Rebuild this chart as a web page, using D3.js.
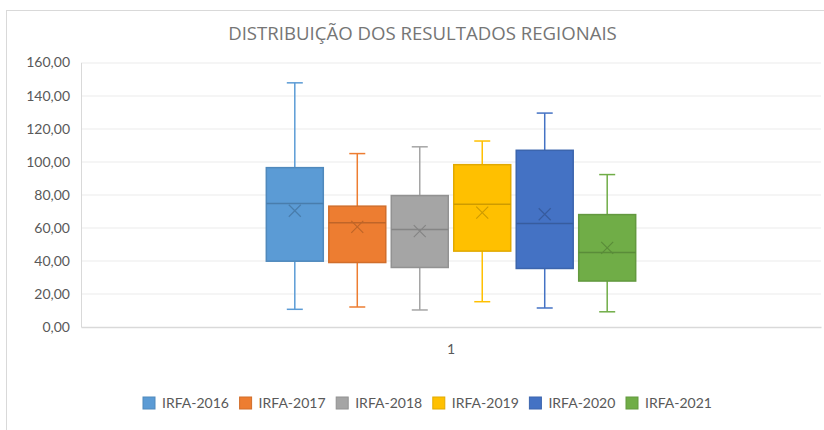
<!DOCTYPE html>
<html>
<head>
<meta charset="utf-8">
<script src="https://cdn.jsdelivr.net/npm/d3@7"></script>
<style>
  body { margin: 0; background: #fff; }
  svg { display: block; }
</style>
</head>
<body>
<svg width="824" height="430"></svg>
<script>
// values
var series = ["IRFA-2016", "IRFA-2017", "IRFA-2018", "IRFA-2019", "IRFA-2020", "IRFA-2021"];
var colors = ["#5B9BD5", "#ED7D31", "#A5A5A5", "#FFC000", "#4472C4", "#70AD47"];
var mins    = [10.7, 12.1, 10.3, 15.3, 11.5, 9.2];
var q1s     = [39.8, 39.0, 36.0, 45.9, 35.4, 27.8];
var medians = [74.7, 63.0, 59.0, 74.3, 62.6, 45.1];
var means   = [70.3, 60.6, 58.0, 69.2, 68.2, 47.9];
var q3s     = [96.4, 73.1, 79.5, 98.2, 106.9, 68.0];
var maxs    = [147.7, 104.9, 109.0, 112.5, 129.4, 92.2];
var categories = ["1"];
var yTicks = [0, 20, 40, 60, 80, 100, 120, 140, 160];

var svg = d3.select("svg"),
    margin = {top: 62.5, left: 81, right: 3, bottom: 103},
    width = 824 - margin.left - margin.right,
    height = 430 - margin.top - margin.bottom;

var locale = d3.formatLocale({decimal: ",", thousands: ".", grouping: [3], currency: ["", ""]}),
    fmt = locale.format(".2f");

// chart frame
svg.append("rect")
    .attr("x", 6.5).attr("y", 10.5)
    .attr("width", 840).attr("height", 430)
    .attr("fill", "none")
    .attr("stroke", "#d9d9d9");

svg.append("text")
    .attr("x", 422.5).attr("y", 39.5)
    .attr("text-anchor", "middle")
    .attr("font-family", "Open Sans")
    .attr("font-size", "18.6px")
    .attr("fill", "#757575")
    .text("DISTRIBUIÇÃO DOS RESULTADOS REGIONAIS");

var g = svg.append("g").attr("transform", "translate(" + margin.left + "," + margin.top + ")");

var y = d3.scaleLinear().domain([0, 160]).range([height, 0]);
var x0 = d3.scaleBand().domain(categories).range([0, width]).paddingOuter(0.487);
var x1 = d3.scaleBand().domain(series).range([0, x0.bandwidth()]).paddingInner(0.088).paddingOuter(0.044);

// gridlines
g.selectAll(".grid")
    .data(yTicks.slice(1))
  .enter().append("line")
    .attr("x1", 0).attr("x2", width)
    .attr("y1", function(d) { return Math.round(y(d)) + 0.5; })
    .attr("y2", function(d) { return Math.round(y(d)) + 0.5; })
    .attr("stroke", "#ebebeb");

var yAxis = g.append("g")
    .call(d3.axisLeft(y).tickValues(yTicks).tickFormat(fmt).tickSize(0).tickPadding(11));
yAxis.select(".domain").attr("stroke", "#d9d9d9");
yAxis.selectAll("text")
    .attr("font-family", "Lato")
    .attr("font-size", "14px")
    .attr("fill", "#595959");

var xAxis = g.append("g")
    .attr("transform", "translate(0," + height + ")")
    .call(d3.axisBottom(x0).tickSize(0).tickPadding(17));
xAxis.select(".domain").attr("stroke", "#d9d9d9").attr("stroke-width", 1.5);
xAxis.selectAll("text")
    .attr("font-family", "Lato")
    .attr("font-size", "14px")
    .attr("fill", "#595959");

var boxes = series.map(function(s, i) {
  return {name: s, color: colors[i], min: mins[i], q1: q1s[i], median: medians[i],
          mean: means[i], q3: q3s[i], max: maxs[i]};
});

var box = g.selectAll(".box")
    .data(boxes)
  .enter().append("g")
    .attr("transform", function(d) { return "translate(" + (x0("1") + x1(d.name)) + ",0)"; });

var bw = x1.bandwidth(), cap = 16;

// whiskers
box.append("line")
    .attr("x1", bw / 2).attr("x2", bw / 2)
    .attr("y1", function(d) { return y(d.max); })
    .attr("y2", function(d) { return y(d.q3); })
    .attr("stroke", function(d) { return d.color; }).attr("stroke-width", 1.5);
box.append("line")
    .attr("x1", bw / 2).attr("x2", bw / 2)
    .attr("y1", function(d) { return y(d.q1); })
    .attr("y2", function(d) { return y(d.min); })
    .attr("stroke", function(d) { return d.color; }).attr("stroke-width", 1.5);
box.selectAll(".cap")
    .data(function(d) { return [d.max, d.min].map(function(v) { return {v: v, color: d.color}; }); })
  .enter().append("line")
    .attr("x1", bw / 2 - cap / 2).attr("x2", bw / 2 + cap / 2)
    .attr("y1", function(d) { return y(d.v); })
    .attr("y2", function(d) { return y(d.v); })
    .attr("stroke", function(d) { return d.color; }).attr("stroke-width", 1.5);

// box
box.append("rect")
    .attr("x", 0).attr("width", bw)
    .attr("y", function(d) { return y(d.q3); })
    .attr("height", function(d) { return y(d.q1) - y(d.q3); })
    .attr("fill", function(d) { return d.color; })
    .attr("stroke", function(d) { return d3.color(d.color).darker(0.35); })
    .attr("stroke-width", 1.5);

// median
box.append("line")
    .attr("x1", 0).attr("x2", bw)
    .attr("y1", function(d) { return y(d.median); })
    .attr("y2", function(d) { return y(d.median); })
    .attr("stroke", function(d) { return d3.color(d.color).darker(0.6); })
    .attr("stroke-width", 1.5);

// mean marker
box.append("path")
    .attr("d", function(d) {
      var cx = bw / 2, cy = y(d.mean), r = 6;
      return "M" + (cx - r) + "," + (cy - r) + "L" + (cx + r) + "," + (cy + r) +
             "M" + (cx - r) + "," + (cy + r) + "L" + (cx + r) + "," + (cy - r);
    })
    .attr("stroke", function(d) { return d3.color(d.color).darker(0.6); })
    .attr("stroke-width", 1.2)
    .attr("fill", "none");

// legend
var legend = svg.append("g").attr("transform", "translate(143,397)");
var item = legend.selectAll(".item")
    .data(boxes)
  .enter().append("g")
    .attr("transform", function(d, i) { return "translate(" + (i * 96.6) + ",0)"; });
item.append("rect")
    .attr("width", 12).attr("height", 12)
    .attr("fill", function(d) { return d.color; })
    .attr("stroke", function(d) { return d3.color(d.color).darker(0.35); });
item.append("text")
    .attr("x", 19).attr("y", 11)
    .attr("font-family", "Lato")
    .attr("font-size", "14px")
    .attr("fill", "#595959")
    .text(function(d) { return d.name; });
</script>
</body>
</html>
